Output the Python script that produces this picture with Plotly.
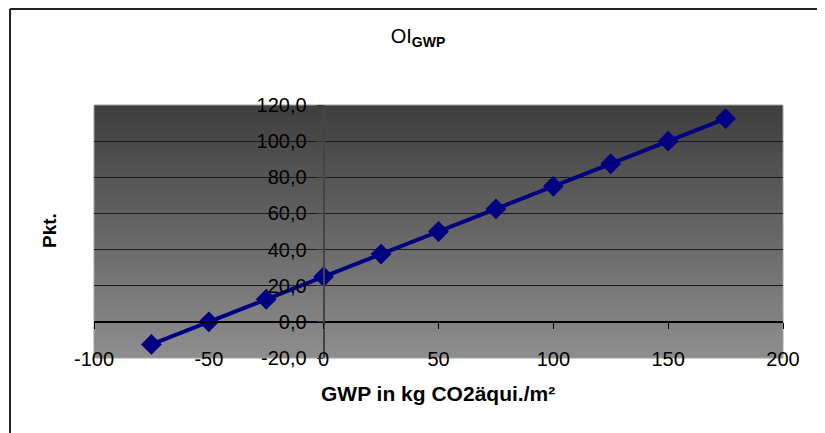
import base64
import plotly.graph_objects as go

# Data
gwp = [-75, -50, -25, 0, 25, 50, 75, 100, 125, 150, 175]
pkt = [-12.5, 0.0, 12.5, 25.0, 37.5, 50.0, 62.5, 75.0, 87.5, 100.0, 112.5]

x_ticks = [-100, -50, 0, 50, 100, 150, 200]
x_ticktext = ["-100", "-50", "0", "50", "100", "150", "200"]
y_ticks = [-20, 0, 20, 40, 60, 80, 100, 120]
y_ticktext = ["-20,0", "0,0", "20,0", "40,0", "60,0", "80,0", "100,0", "120,0"]
y_grid = [20, 40, 60, 80, 100, 120]

X_RANGE = [-100, 200]
Y_RANGE = [-20, 120]

OFF = 8  # page body margin
W, H = 825 - OFF, 433 - OFF
# plot area in window coordinates: left 94, right 783, top 105, bottom 358
ML, MT = 94 - OFF, 105 - OFF
MR = W - (783 - OFF)
MB = H - (358 - OFF)
PW = W - ML - MR
PH = H - MT - MB


def px(xw):
    return (xw - OFF - ML) / PW


def py(yw):
    return 1 - (yw - OFF - MT) / PH


svg = (
    '<svg xmlns="http://www.w3.org/2000/svg" width="100" height="100" preserveAspectRatio="none">'
    '<defs><linearGradient id="g" x1="0" y1="0" x2="0" y2="1">'
    '<stop offset="0" stop-color="#3e3e3e"/><stop offset="1" stop-color="#8e8e8e"/>'
    '</linearGradient></defs>'
    '<rect x="0" y="0" width="100" height="100" fill="url(#g)"/>'
    '</svg>'
)
src = "data:image/svg+xml;base64," + base64.b64encode(svg.encode()).decode()

font = "Liberation Sans, Arial, sans-serif"

fig = go.Figure()
fig.add_trace(go.Scatter(
    x=gwp, y=pkt, mode="lines+markers",
    line=dict(color="#000080", width=4),
    marker=dict(symbol="diamond", size=16, color="#000080"),
    showlegend=False, hoverinfo="skip",
))
# invisible trace to host grid axis
fig.add_trace(go.Scatter(x=[], y=[], yaxis="y2", showlegend=False, hoverinfo="skip"))

x_pos = (0 - Y_RANGE[0]) / (Y_RANGE[1] - Y_RANGE[0])
y_pos = (0 - X_RANGE[0]) / (X_RANGE[1] - X_RANGE[0])

fig.update_layout(
    width=W, height=H,
    margin=dict(l=ML, r=MR, t=MT, b=MB, pad=0),
    paper_bgcolor="white",
    plot_bgcolor="rgba(0,0,0,0)",
    font=dict(family=font, size=20, color="black"),
    title=dict(
        text="OI<sub><b>GWP</b></sub>",
        x=px(418), xref="paper", xanchor="center",
        y=1 - (36 - OFF) / H, yanchor="middle",
        font=dict(family=font, size=20, color="black"),
    ),
    images=[dict(
        source=src, xref="paper", yref="paper", x=0, y=1, sizex=1, sizey=1,
        sizing="stretch", layer="below", xanchor="left", yanchor="top",
    )],
    xaxis=dict(
        range=X_RANGE, domain=[0, 1], anchor="free", position=x_pos,
        showgrid=False, zeroline=False,
        showline=True, linecolor="black", linewidth=1.5,
        ticks="outside", ticklen=6, tickcolor="black", tickwidth=1,
        tickvals=x_ticks, ticktext=x_ticktext,
        ticklabelstandoff=13,
        tickfont=dict(family=font, size=20, color="black"),
        title=None,
    ),
    yaxis=dict(
        range=Y_RANGE, domain=[0, 1], anchor="free", position=y_pos,
        showgrid=False, zeroline=False,
        showline=True, linecolor="#444444", linewidth=2,
        ticks="outside", ticklen=6, tickcolor="#333333",
        tickvals=y_ticks, ticktext=y_ticktext,
        ticklabelstandoff=6,
        tickfont=dict(family=font, size=20, color="black"),
        title=None,
    ),
    yaxis2=dict(
        range=Y_RANGE, overlaying="y", side="right",
        showgrid=True, gridcolor="#1a1a1a", gridwidth=1,
        tickvals=y_grid, showticklabels=False, ticks="",
        zeroline=False, showline=False,
    ),
    shapes=[
        dict(type="rect", xref="paper", yref="paper", x0=0, x1=1, y0=0, y1=1,
             line=dict(color="#a0a0a0", width=1), layer="below"),
        dict(type="line", xref="paper", yref="paper",
             x0=px(10), x1=px(830), y0=py(9), y1=py(9),
             line=dict(color="#222222", width=2)),
        dict(type="line", xref="paper", yref="paper",
             x0=px(10), x1=px(10), y0=py(9), y1=py(440),
             line=dict(color="#222222", width=2)),
    ],
    annotations=[
        dict(text="<b>GWP in kg CO2äqui./m²</b>", xref="paper", yref="paper",
             x=px(438), y=py(393), xanchor="center", yanchor="middle",
             showarrow=False, font=dict(family=font, size=21, color="black")),
        dict(text="<b>Pkt.</b>", xref="paper", yref="paper",
             x=px(49), y=py(231), xanchor="center", yanchor="middle",
             textangle=-90, showarrow=False, font=dict(family=font, size=19, color="black")),
    ],
)

fig.write_html("out.html")
